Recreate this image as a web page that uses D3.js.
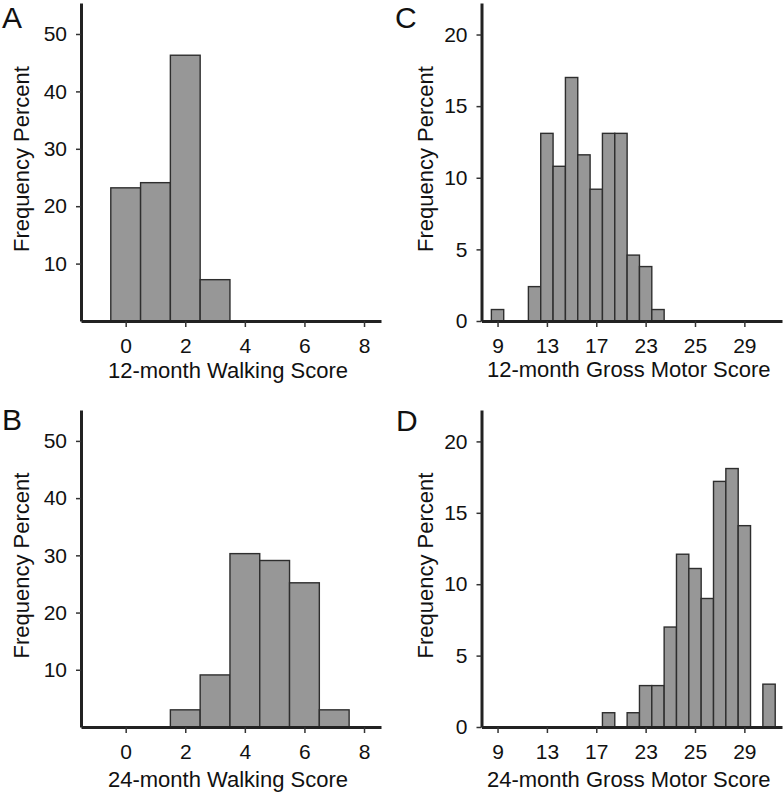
<!DOCTYPE html>
<html>
<head>
<meta charset="utf-8">
<script src="https://cdn.jsdelivr.net/npm/d3@7"></script>
<style>
  html, body { margin: 0; padding: 0; background: #fff; }
  svg text { font-family: "Liberation Sans", Arial, Helvetica, sans-serif; fill: #111; }
</style>
</head>
<body>
<svg id="chart" width="784" height="794"></svg>
<script>
// ---- Data ----
const walk12Scores = [0, 1, 2, 3];
const walk12Pct    = [23.2, 24.1, 46.3, 7.2];

const walk24Scores = [2, 3, 4, 5, 6, 7];
const walk24Pct    = [3.0, 9.1, 30.3, 29.1, 25.2, 3.0];

const gm12Scores = [9, 12, 13, 14, 15, 16, 17, 18, 19, 20, 21, 22];
const gm12Pct    = [0.8, 2.4, 13.1, 10.8, 17.0, 11.6, 9.2, 13.1, 13.1, 4.6, 3.8, 0.8];

const gm24Scores = [18, 20, 21, 22, 23, 24, 25, 26, 27, 28, 29, 31];
const gm24Pct    = [1.0, 1.0, 2.9, 2.9, 7.0, 12.1, 11.1, 9.0, 17.2, 18.1, 14.1, 3.0];

const walkXTicks      = [0, 2, 4, 6, 8];
const walkXTickLabels = ["0", "2", "4", "6", "8"];
const gmXTicks        = [9, 13, 17, 21, 25, 29];
const gmXTickLabels   = ["9", "13", "17", "23", "25", "29"];
const walkYTicks      = [10, 20, 30, 40, 50];
const gmYTicks        = [0, 5, 10, 15, 20];

const panelLetters = ["A", "B", "C", "D"];
const xTitles = ["12-month Walking Score", "24-month Walking Score",
                 "12-month Gross Motor Score", "24-month Gross Motor Score"];
const yTitle = "Frequency Percent";

// ---- Layout ----
const panels = [
  { letter: panelLetters[0], scores: walk12Scores, pct: walk12Pct, xDom: [-1.5, 8.57], yDom: [0, 55.4],
    left: 81, right: 381, top: 3, base: 321, xTicks: walkXTicks, xLabels: walkXTickLabels, yTicks: walkYTicks,
    xTitle: xTitles[0], letterX: 2, letterY: 28, yTitleX: 29, xTitleY: 378 },
  { letter: panelLetters[1], scores: walk24Scores, pct: walk24Pct, xDom: [-1.5, 8.57], yDom: [0, 55.4],
    left: 81, right: 381, top: 410, base: 727, xTicks: walkXTicks, xLabels: walkXTickLabels, yTicks: walkYTicks,
    xTitle: xTitles[1], letterX: 2, letterY: 430, yTitleX: 29, xTitleY: 787 },
  { letter: panelLetters[2], scores: gm12Scores, pct: gm12Pct, xDom: [7.7, 32.05], yDom: [0, 22.2],
    left: 481.5, right: 782, top: 3, base: 321, xTicks: gmXTicks, xLabels: gmXTickLabels, yTicks: gmYTicks,
    xTitle: xTitles[2], letterX: 395, letterY: 28, yTitleX: 433, xTitleY: 377 },
  { letter: panelLetters[3], scores: gm24Scores, pct: gm24Pct, xDom: [7.7, 32.05], yDom: [0, 22.2],
    left: 481.5, right: 782, top: 410, base: 727, xTicks: gmXTicks, xLabels: gmXTickLabels, yTicks: gmYTicks,
    xTitle: xTitles[3], letterX: 396, letterY: 431, yTitleX: 433, xTitleY: 787 }
];

const svg = d3.select("#chart");

panels.forEach(p => {
  const g = svg.append("g");
  const x = d3.scaleLinear().domain(p.xDom).range([p.left, p.right]);
  const y = d3.scaleLinear().domain(p.yDom).range([p.base, p.top]);
  const data = p.scores.map((s, i) => ({ s, v: p.pct[i] }));

  // bars
  g.selectAll("rect.bar").data(data).enter().append("rect")
    .attr("class", "bar")
    .attr("x", d => x(d.s - 0.5))
    .attr("width", d => x(d.s + 0.5) - x(d.s - 0.5))
    .attr("y", d => y(d.v))
    .attr("height", d => y(0) - y(d.v))
    .attr("fill", "#979797")
    .attr("stroke", "#2e2e2e")
    .attr("stroke-width", 1.4);

  // x axis
  const xAxis = d3.axisBottom(x)
    .tickValues(p.xTicks)
    .tickFormat((d, i) => p.xLabels[i])
    .tickSize(6).tickSizeOuter(0).tickPadding(11);
  const gx = g.append("g").attr("transform", `translate(0,${p.base})`).call(xAxis);

  // y axis
  const yAxis = d3.axisLeft(y)
    .tickValues(p.yTicks)
    .tickSize(5).tickSizeOuter(0).tickPadding(9);
  const gy = g.append("g").attr("transform", `translate(${p.left},0)`).call(yAxis);

  [gx, gy].forEach(ax => {
    ax.select(".domain").attr("stroke", "#222").attr("stroke-width", 3);
    ax.selectAll(".tick line").attr("stroke", "#333").attr("stroke-width", 1.5);
    ax.selectAll(".tick text")
      .attr("font-size", 21)
      .attr("fill", "#111")
      .style("font-family", '"Liberation Sans", Arial, sans-serif');
  });

  // x title
  g.append("text")
    .attr("x", (p.left + p.right) / 2 - 3)
    .attr("y", p.xTitleY)
    .attr("text-anchor", "middle")
    .attr("font-size", 22)
    .text(p.xTitle);

  // y title
  g.append("text")
    .attr("transform", `translate(${p.yTitleX},${(p.top + p.base) / 2 - 3}) rotate(-90)`)
    .attr("text-anchor", "middle")
    .attr("font-size", 22)
    .text(yTitle);

  // panel letter
  g.append("text")
    .attr("x", p.letterX)
    .attr("y", p.letterY)
    .attr("font-size", 30)
    .text(p.letter);
});
</script>
</body>
</html>
